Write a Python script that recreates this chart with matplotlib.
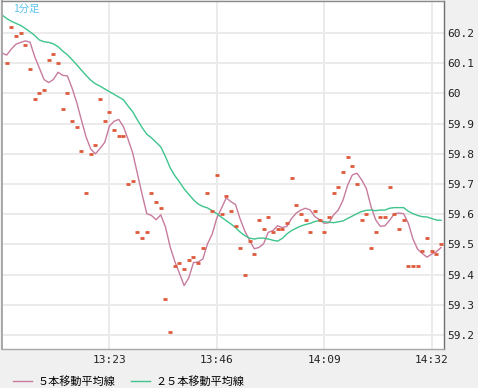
import numpy as np
import matplotlib
matplotlib.use('Agg')
import matplotlib.pyplot as plt
from matplotlib.font_manager import FontProperties

# ---- data (minutes after 13:00) ----
close = [60.10, 60.22, 60.19, 60.20, 60.16, 60.08, 59.98, 60.00, 60.01, 60.11,
         60.13, 60.10, 59.95, 60.00, 59.91, 59.89, 59.81, 59.67, 59.80, 59.83,
         59.98, 59.91, 59.94, 59.88, 59.86, 59.86, 59.70, 59.71, 59.54, 59.52,
         59.54, 59.67, 59.64, 59.62, 59.32, 59.21, 59.43, 59.44, 59.42, 59.45,
         59.46, 59.44, 59.49, 59.67, 59.61, 59.73, 59.60, 59.66, 59.61, 59.56,
         59.49, 59.40, 59.51, 59.47, 59.58, 59.55, 59.59, 59.54, 59.55, 59.55,
         59.57, 59.72, 59.63, 59.60, 59.58, 59.54, 59.61, 59.58, 59.54, 59.59,
         59.67, 59.69, 59.74, 59.79, 59.76, 59.70, 59.58, 59.60, 59.49, 59.54,
         59.59, 59.59, 59.69, 59.60, 59.55, 59.58, 59.43, 59.43, 59.43, 59.48,
         59.52, 59.48, 59.47, 59.50]
close_start_minute = 1

ma5 = [60.134, 60.127, 60.147, 60.163, 60.169,
       60.174, 60.170, 60.122, 60.084, 60.046, 60.036, 60.046, 60.070, 60.060, 60.058,
       60.018, 59.970, 59.912, 59.856, 59.816, 59.800, 59.818, 59.838, 59.892, 59.908,
       59.914, 59.890, 59.848, 59.802, 59.734, 59.666, 59.602, 59.596, 59.582, 59.598,
       59.558, 59.492, 59.444, 59.404, 59.364, 59.390, 59.440, 59.442, 59.452, 59.502,
       59.534, 59.588, 59.620, 59.654, 59.642, 59.632, 59.584, 59.544, 59.514, 59.486,
       59.490, 59.502, 59.540, 59.546, 59.562, 59.556, 59.560, 59.586, 59.604, 59.614,
       59.620, 59.614, 59.592, 59.582, 59.570, 59.572, 59.598, 59.614, 59.646, 59.696,
       59.730, 59.736, 59.714, 59.686, 59.626, 59.582, 59.560, 59.562, 59.580, 59.602,
       59.604, 59.602, 59.570, 59.518, 59.484, 59.470, 59.458, 59.468, 59.476, 59.490]

ma25 = [60.260, 60.248, 60.239, 60.232, 60.225, 60.215, 60.204, 60.192, 60.177, 60.171,
        60.169, 60.164, 60.155, 60.140, 60.128, 60.112, 60.095, 60.077, 60.060, 60.044,
        60.032, 60.024, 60.015, 60.006, 59.997,
        59.988, 59.979, 59.958, 59.939, 59.912, 59.887,
        59.865, 59.853, 59.838, 59.823, 59.791,
        59.754, 59.728, 59.707, 59.684, 59.666,
        59.648, 59.634, 59.626, 59.621, 59.612,
        59.602, 59.590, 59.579, 59.568, 59.556,
        59.541, 59.529, 59.521, 59.518, 59.521,
        59.521, 59.518, 59.514, 59.511, 59.520,
        59.535, 59.546, 59.554, 59.561, 59.566,
        59.570, 59.576, 59.580, 59.575, 59.574,
        59.572, 59.575, 59.578, 59.586, 59.594,
        59.602, 59.609, 59.613, 59.614, 59.612,
        59.614, 59.614, 59.620, 59.622, 59.622,
        59.622, 59.610, 59.602, 59.596, 59.592,
        59.591, 59.586, 59.581, 59.580]

x_tick_minutes = [23, 46, 69, 92]
x_tick_labels = ['13:23', '13:46', '14:09', '14:32']
y_ticks = [59.2, 59.3, 59.4, 59.5, 59.6, 59.7, 59.8, 59.9, 60.0, 60.1, 60.2]
y_tick_labels = ['59.2', '59.3', '59.4', '59.5', '59.6', '59.7', '59.8', '59.9', '60', '60.1', '60.2']
legend_labels = ['５本移動平均線', '２５本移動平均線']
title_text = '1分足'

# ---- figure ----
W, H = 478, 388
fig = plt.figure(figsize=(W / 100, H / 100), dpi=100, facecolor='#f0f0f0')
ax = fig.add_axes([2 / W, 1 - 349 / H, 442 / W, 348 / H])
ax.set_facecolor('white')

x_close = np.arange(close_start_minute, close_start_minute + len(close))
x_ma = np.arange(len(ma5))

l5, = ax.plot(x_ma, ma5, color='#c77b9e', lw=1.0, zorder=2)
l25, = ax.plot(x_ma, ma25, color='#3ec48c', lw=1.0, zorder=2)
ax.plot(x_close, close, ls='none', marker='_', ms=3.2, mew=2.0,
        color='#dd5a3c', zorder=3)

ax.set_xlim(0, 94.64)
ax.set_ylim(59.154, 60.306)

ax.set_xticks(x_tick_minutes)
ax.set_xticklabels(x_tick_labels)
ax.set_yticks(y_ticks)
ax.set_yticklabels(y_tick_labels)
ax.yaxis.tick_right()
ax.grid(True, color='#ebebeb', lw=1.4)
ax.set_axisbelow(True)

mono = FontProperties(family=['DejaVu Sans Mono'], size=8)
for lab in ax.get_xticklabels() + ax.get_yticklabels():
    lab.set_fontproperties(mono)
    lab.set_color('#222222')
ax.tick_params(axis='y', length=0, pad=2.5)
ax.tick_params(axis='x', length=0, pad=4.5)

ax.spines['left'].set_color('#a8a8a8')
ax.spines['left'].set_linewidth(1.4)
ax.spines['top'].set_color('#8a8a8a')
ax.spines['top'].set_linewidth(1.0)
ax.spines['right'].set_color('#707070')
ax.spines['right'].set_linewidth(1.0)
ax.spines['bottom'].set_color('#a8a8a8')
ax.spines['bottom'].set_linewidth(1.0)

cjk = FontProperties(family=['Noto Sans CJK JP', 'DejaVu Sans'], size=8)
fig.text(13 / W, 1 - 9 / H, title_text, color='#5ac4ee', va='center', ha='left',
         fontproperties=FontProperties(family=['Noto Sans CJK JP', 'DejaVu Sans'], size=7.5))

fig.legend([l5, l25], legend_labels, loc='lower left', bbox_to_anchor=(13 / W, 0.003),
           ncol=2, frameon=False, prop=cjk, borderpad=0.0, borderaxespad=0.0,
           handlelength=1.7, handletextpad=0.55, columnspacing=1.35)

fig.savefig('out.png', dpi=100, facecolor=fig.get_facecolor())
